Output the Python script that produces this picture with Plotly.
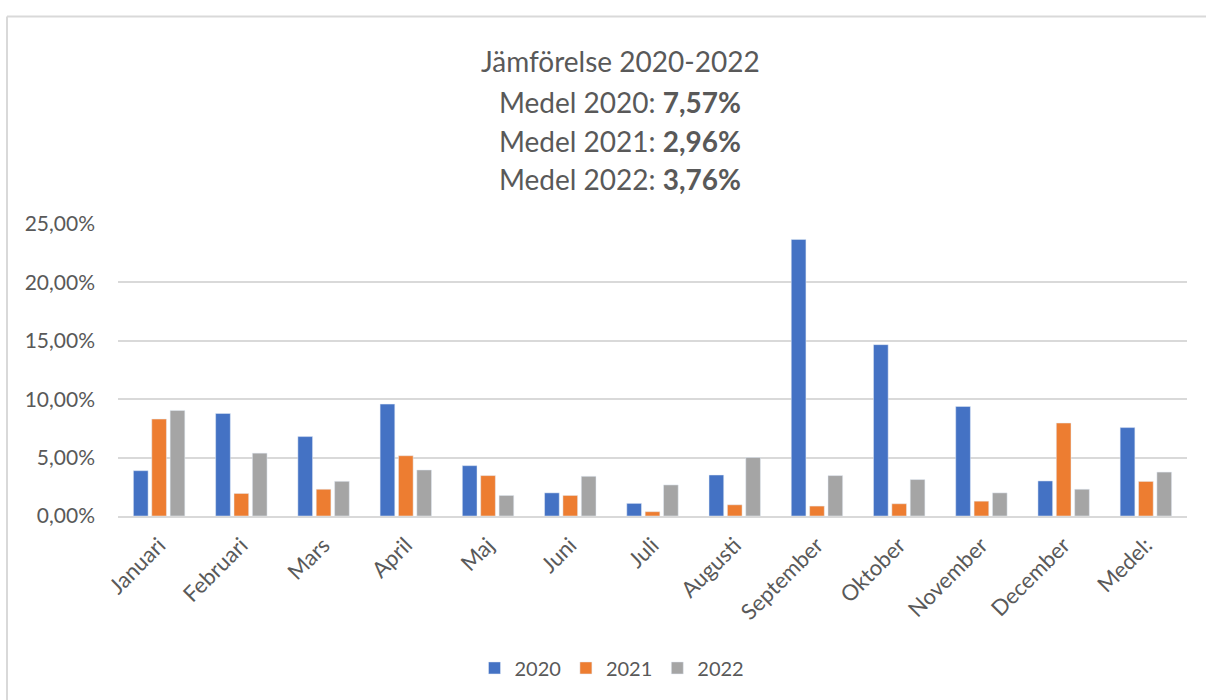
import plotly.graph_objects as go

categories = ["Januari", "Februari", "Mars", "April", "Maj", "Juni", "Juli",
              "Augusti", "September", "Oktober", "November", "December", "Medel:"]
series_names = ["2020", "2021", "2022"]
values_2020 = [3.88, 8.78, 6.80, 9.58, 4.31, 1.98, 1.08, 3.51, 23.68, 14.67, 9.38, 3.00, 7.57]
values_2021 = [8.30, 1.93, 2.29, 5.16, 3.46, 1.76, 0.37, 0.96, 0.85, 1.05, 1.27, 7.96, 2.96]
values_2022 = [9.04, 5.38, 2.97, 3.94, 1.76, 3.40, 2.66, 5.01, 3.46, 3.12, 1.98, 2.29, 3.76]
colors = ["#4472C4", "#ED7D31", "#A5A5A5"]
y_ticks = [0, 5, 10, 15, 20, 25]
y_tick_labels = ["0,00%", "5,00%", "10,00%", "15,00%", "20,00%", "25,00%"]
title_lines = ["Jämförelse 2020-2022",
               "Medel 2020: <b>7,57%</b>",
               "Medel 2021: <b>2,96%</b>",
               "Medel 2022: <b>3,76%</b>"]

W, H = 1206, 700
L, R, T, B = 118, 1187, 224, 518  # plot area in pixels
TEXT = "#595959"
GRID = "#D9D9D9"
FONT = "Lato"

def px_x(x):
    return (x - L) / (R - L)

def px_y(y):
    return (B - y) / (B - T)

fig = go.Figure()
for name, vals, col in zip(series_names, [values_2020, values_2021, values_2022], colors):
    fig.add_trace(go.Bar(x=categories, y=vals, name=name, marker_color=col))

annotations = []
title_y = [60, 101, 140, 179]
for txt, yy in zip(title_lines, title_y):
    annotations.append(dict(text=txt, x=px_x(620), y=px_y(yy), xref="paper", yref="paper",
                            xanchor="center", yanchor="middle", showarrow=False,
                            font=dict(family=FONT, size=28, color=TEXT)))

shapes = [
    dict(type="line", xref="paper", yref="paper", x0=px_x(7), x1=px_x(W + 5),
         y0=px_y(15), y1=px_y(15), line=dict(color=GRID, width=2)),
    dict(type="line", xref="paper", yref="paper", x0=px_x(7), x1=px_x(7),
         y0=px_y(15), y1=px_y(H + 5), line=dict(color=GRID, width=2)),
]

fig.update_layout(
    width=W, height=H,
    margin=dict(l=L, r=W - R, t=T, b=H - B, pad=0),
    paper_bgcolor="white", plot_bgcolor="white",
    barmode="group", bargap=0.33, bargroupgap=0.2,
    font=dict(family=FONT, color=TEXT, size=20),
    showlegend=True,
    legend=dict(orientation="h", x=px_x(612), xanchor="center", y=px_y(671), yanchor="middle",
                font=dict(family=FONT, size=20, color=TEXT), itemwidth=30),
    annotations=annotations,
    shapes=shapes,
)
fig.update_xaxes(tickangle=-45, showgrid=False, showline=True, linecolor=GRID, linewidth=1.5,
                 ticks="", ticklabelstandoff=6, tickfont=dict(family=FONT, size=22, color=TEXT))
fig.update_yaxes(range=[0, 25], tickvals=y_ticks, ticktext=y_tick_labels,
                 showgrid=True, gridcolor=GRID, gridwidth=1.5, zeroline=False,
                 showline=False, ticks="", ticklabelstandoff=22,
                 tickfont=dict(family=FONT, size=21, color=TEXT))

fig.write_html("out.html", config={"displayModeBar": False},
               post_script="document.body.style.margin='0';")
